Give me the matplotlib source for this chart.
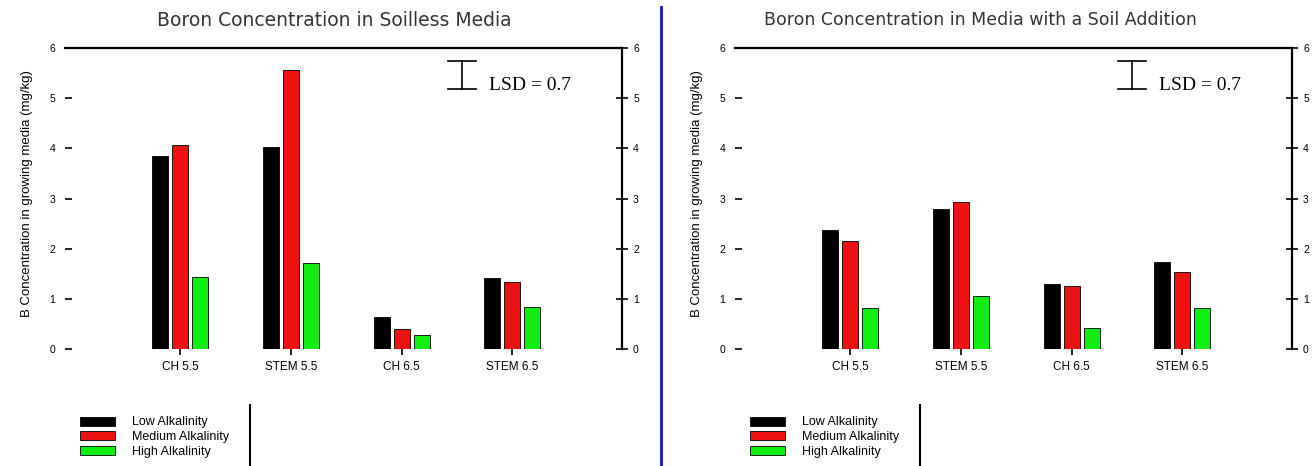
import numpy as np
import matplotlib
matplotlib.use("Agg")
import matplotlib.pyplot as plt
from matplotlib.lines import Line2D

plt.rcParams['font.family'] = ['Liberation Sans', 'DejaVu Sans']

# data
categories = ["CH 5.5", "STEM 5.5", "CH 6.5", "STEM 6.5"]
series = ["Low Alkalinity", "Medium Alkalinity", "High Alkalinity"]
colors = ["#000000", "#ee1111", "#11ee11"]

soilless_low = [3.84, 4.02, 0.64, 1.42]
soilless_med = [4.06, 5.56, 0.40, 1.34]
soilless_high = [1.44, 1.72, 0.28, 0.84]

soil_low = [2.38, 2.80, 1.30, 1.74]
soil_med = [2.16, 2.94, 1.26, 1.54]
soil_high = [0.82, 1.06, 0.42, 0.82]

titles = ["Boron Concentration in Soilless Media",
          "Boron Concentration in Media with a Soil Addition"]
ylabel = "B Concentration in growing media (mg/kg)"
lsd_text = "LSD = 0.7"
yticks = [0, 1, 2, 3, 4, 5, 6]

W, H = 1316, 466
fig = plt.figure(figsize=(W / 100, H / 100), dpi=100)


def panel(x0, values, title, title_x, title_size):
    ax = fig.add_axes([x0 / W, 1 - 349 / H, 557 / W, 301 / H])
    x = np.arange(len(categories))
    width = 0.145
    step = 0.18
    for i, (vals, c) in enumerate(zip(values, colors)):
        ax.bar(x + (i - 1) * step, vals, width, color=c, edgecolor="black",
               linewidth=0.6, label=series[i])
    ax.set_xlim(-1.04, 3.99)
    ax.set_ylim(0, 6)
    for s in ["left", "bottom", "right"]:
        ax.spines[s].set_visible(False)
    ax.spines["top"].set_linewidth(1.6)
    ax.set_xticks(x)
    ax.set_xticklabels(categories, fontsize=8.5)
    ax.tick_params(axis="x", length=4, width=1.2, pad=5)
    ax.set_yticks(yticks)
    ax.set_yticklabels([str(t) for t in yticks], fontsize=7.5)
    ax.tick_params(axis="y", direction="in", length=5, width=1.2, pad=7)
    ax.set_ylabel(ylabel, fontsize=9.5)
    ax.yaxis.set_label_coords(-0.057, 0.518)

    ax2 = ax.twinx()
    ax2.set_ylim(0, 6)
    for s in ["left", "bottom", "top"]:
        ax2.spines[s].set_visible(False)
    ax2.spines["right"].set_linewidth(1.6)
    ax2.set_yticks(yticks)
    ax2.set_yticklabels([str(t) for t in yticks], fontsize=7.5)
    ax2.tick_params(axis="y", direction="inout", length=8, width=1.2, pad=4)

    # LSD marker
    cx, top, bot, half = 0.713, 0.957, 0.864, 0.025
    kw = dict(transform=ax.transAxes, color="black", lw=1.2, clip_on=False)
    ax.plot([cx, cx], [bot, top], **kw)
    ax.plot([cx - half, cx + half], [top, top], **kw)
    ax.plot([cx - half, cx + half], [bot, bot], **kw)
    ax.text(0.762, 0.875, lsd_text, transform=ax.transAxes, fontsize=14,
            family="Liberation Serif", va="center", ha="left")

    fig.text(title_x / W, 1 - 20 / H, title, fontsize=title_size, ha="center",
             va="center", color="#333333", family="DejaVu Sans")

    ax.legend(loc="center left", bbox_to_anchor=((x0 + 15) / W, 1 - 437 / H),
              bbox_transform=fig.transFigure, frameon=False, fontsize=9,
              handlelength=2.8, handleheight=0.7, handletextpad=1.4,
              labelspacing=0.2, borderpad=0, borderaxespad=0)
    fig.add_artist(Line2D([(x0 + 185) / W] * 2, [1 - 405 / H, 0], color="black", lw=1.5))
    return ax


panel(65, [soilless_low, soilless_med, soilless_high], titles[0], 334, 13.5)
panel(735, [soil_low, soil_med, soil_high], titles[1], 980, 12.5)

fig.add_artist(Line2D([661 / W] * 2, [1 - 7 / H, 0], color="#1111cc", lw=2))

fig.savefig("out.png", dpi=100)
